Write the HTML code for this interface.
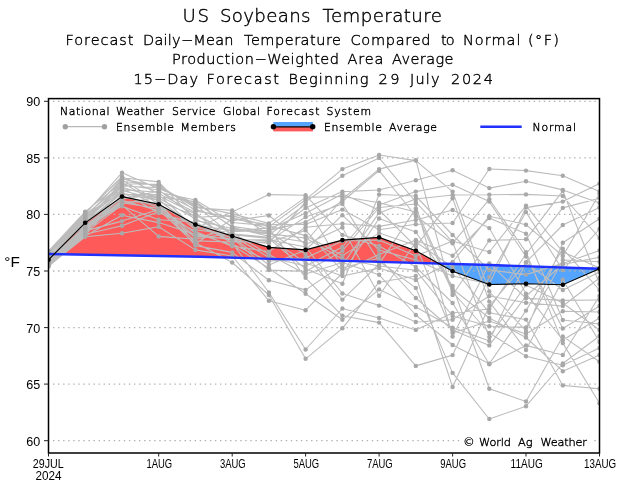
<!DOCTYPE html>
<html><head><meta charset="utf-8"><title>US Soybeans Temperature</title>
<style>html,body{margin:0;padding:0;background:#fff;}svg{display:block;will-change:transform;}</style>
</head><body>
<svg width="625" height="485" viewBox="0 0 625 485">
<defs><clipPath id="pc"><rect x="48.5" y="98.6" width="551" height="354.4"/></clipPath></defs>
<rect width="625" height="485" fill="#fff"/>
<g clip-path="url(#pc)">
<polygon points="54.3,254 85.2,222.9 121.8,196.7 122.1,196.6 158.8,204.3 195.4,224.6 200.1,226.1 232.1,236.1 268.7,247.3 269,247.4 305.7,249.9 342.3,240.1 345.1,239.9 379,237.4 379.3,237.5 415.9,250.8 438.8,263.5 438.8,263.6 415.9,262.9 379.3,261.9 379,261.9 345.1,260.9 342.3,260.8 305.7,259.8 269,258.8 268.7,258.7 232.1,257.7 200.1,256.8 195.4,256.7 158.8,256 122.1,255.4 121.8,255.4 85.2,254.7 54.3,254.1" fill="#ff5a5a"/>
<polygon points="48.5,259.8 54,254.2 54,254.1 48.5,254" fill="#55a5ff"/>
<polygon points="439.1,263.7 452.6,271.2 489.2,284.5 490.1,284.5 525.9,283.8 526.2,283.8 562.8,284.7 599.2,268.9 599.2,268.8 562.8,267.5 526.2,266.3 525.9,266.2 490.1,265 489.2,265 452.6,263.9 439.1,263.6" fill="#55a5ff"/>
<line x1="53" y1="101.3" x2="599" y2="101.3" stroke="#b0b0b0" stroke-width="1.3" stroke-dasharray="1.4 3.66"/>
<line x1="53" y1="157.9" x2="599" y2="157.9" stroke="#b0b0b0" stroke-width="1.3" stroke-dasharray="1.4 3.66"/>
<line x1="53" y1="214.4" x2="599" y2="214.4" stroke="#b0b0b0" stroke-width="1.3" stroke-dasharray="1.4 3.66"/>
<line x1="53" y1="271" x2="599" y2="271" stroke="#b0b0b0" stroke-width="1.3" stroke-dasharray="1.4 3.66"/>
<line x1="53" y1="327.6" x2="599" y2="327.6" stroke="#b0b0b0" stroke-width="1.3" stroke-dasharray="1.4 3.66"/>
<line x1="53" y1="384.1" x2="599" y2="384.1" stroke="#b0b0b0" stroke-width="1.3" stroke-dasharray="1.4 3.66"/>
<line x1="53" y1="440.7" x2="599" y2="440.7" stroke="#b0b0b0" stroke-width="1.3" stroke-dasharray="1.4 3.66"/>
<path d="M48.5 251L85.2 211.6 M48.5 252L85.2 212.4 M48.5 254.1L85.2 213.3 M48.5 252.6L85.2 214.1 M48.5 253.6L85.2 215 M48.5 255.7L85.2 215.8 M48.5 253.1L85.2 216.6 M48.5 251.5L85.2 217.5 M48.5 254.6L85.2 218.3 M48.5 255.2L85.2 219.2 M48.5 257.2L85.2 220 M48.5 258.3L85.2 220.8 M48.5 259.8L85.2 221.7 M48.5 256.7L85.2 222.5 M48.5 258.8L85.2 223.4 M48.5 257.8L85.2 224.2 M48.5 256.2L85.2 225 M48.5 263L85.2 225.9 M48.5 259.3L85.2 226.7 M48.5 260.4L85.2 227.6 M48.5 261.9L85.2 228.4 M48.5 264.5L85.2 229.2 M48.5 260.9L85.2 230.1 M48.5 263.5L85.2 230.9 M48.5 261.4L85.2 231.8 M48.5 262.4L85.2 232.6 M48.5 264L85.2 233.4 M48.5 265L85.2 234.3 M48.5 266.6L85.2 235.1 M48.5 265.6L85.2 236 M48.5 266.1L85.2 236.8 M85.2 214.1L122 172.7 M85.2 213.3L122 176.5 M85.2 212.4L122 177.7 M85.2 217.5L122 178.9 M85.2 216.6L122 180.1 M85.2 223.4L122 181.3 M85.2 211.6L122 182.5 M85.2 220L122 183.7 M85.2 215L122 184.8 M85.2 218.3L122 186 M85.2 221.7L122 187.2 M85.2 233.4L122 188.4 M85.2 215.8L122 189.6 M85.2 219.2L122 190.8 M85.2 222.5L122 192 M85.2 224.2L122 193.2 M85.2 235.1L122 194.4 M85.2 231.8L122 195.6 M85.2 225.9L122 196.8 M85.2 226.7L122 198 M85.2 220.8L122 199.1 M85.2 228.4L122 200.3 M85.2 227.6L122 201.5 M85.2 229.2L122 202.7 M85.2 230.1L122 203.9 M85.2 232.6L122 205.1 M85.2 225L122 206.3 M85.2 236L122 215.3 M85.2 230.9L122 221.1 M85.2 234.3L122 225.7 M85.2 236.8L122 233.2 M122 177.7L158.7 181.9 M122 183.7L158.7 184.2 M122 181.3L158.7 185.4 M122 178.9L158.7 186.5 M122 186L158.7 187.7 M122 172.7L158.7 188.8 M122 184.8L158.7 190 M122 199.1L158.7 191.1 M122 189.6L158.7 192.3 M122 176.5L158.7 193.4 M122 194.4L158.7 194.6 M122 198L158.7 195.7 M122 203.9L158.7 196.9 M122 187.2L158.7 198 M122 190.8L158.7 199.2 M122 193.2L158.7 200.3 M122 180.1L158.7 201.5 M122 201.5L158.7 202.6 M122 182.5L158.7 203.8 M122 196.8L158.7 204.9 M122 188.4L158.7 206.1 M122 195.6L158.7 207.2 M122 202.7L158.7 208.4 M122 221.1L158.7 209.5 M122 200.3L158.7 210.7 M122 225.7L158.7 211.8 M122 192L158.7 213 M122 206.3L158.7 219.7 M122 215.3L158.7 222.6 M122 233.2L158.7 226.8 M122 205.1L158.7 236.4 M158.7 192.3L195.4 200 M158.7 196.9L195.4 201.5 M158.7 188.8L195.4 203.1 M158.7 187.7L195.4 204.7 M158.7 186.5L195.4 206.2 M158.7 185.4L195.4 207.8 M158.7 191.1L195.4 209.4 M158.7 184.2L195.4 210.9 M158.7 193.4L195.4 212.5 M158.7 195.7L195.4 214.1 M158.7 201.5L195.4 215.7 M158.7 190L195.4 217.2 M158.7 198L195.4 218.8 M158.7 181.9L195.4 220.4 M158.7 219.7L195.4 222 M158.7 213L195.4 223.6 M158.7 204.9L195.4 225.1 M158.7 200.3L195.4 226.7 M158.7 194.6L195.4 228.3 M158.7 199.2L195.4 229.8 M158.7 211.8L195.4 231.4 M158.7 207.2L195.4 233 M158.7 222.6L195.4 234.6 M158.7 206.1L195.4 236.1 M158.7 208.4L195.4 237.7 M158.7 236.4L195.4 239.3 M158.7 210.7L195.4 240.9 M158.7 202.6L195.4 242.4 M158.7 209.5L195.4 244 M158.7 203.8L195.4 245.6 M158.7 226.8L195.4 249.9 M195.4 207.8L232.2 210.4 M195.4 228.3L232.2 212.1 M195.4 206.2L232.2 213.9 M195.4 217.2L232.2 215.6 M195.4 210.9L232.2 217.3 M195.4 244L232.2 219 M195.4 209.4L232.2 220.8 M195.4 200L232.2 222.5 M195.4 203.1L232.2 226.4 M195.4 201.5L232.2 227.4 M195.4 220.4L232.2 228.5 M195.4 237.7L232.2 229.5 M195.4 225.1L232.2 230.6 M195.4 215.7L232.2 231.6 M195.4 239.3L232.2 232.7 M195.4 214.1L232.2 233.7 M195.4 229.8L232.2 234.7 M195.4 204.7L232.2 235.8 M195.4 218.8L232.2 236.8 M195.4 226.7L232.2 237.9 M195.4 236.1L232.2 238.9 M195.4 234.6L232.2 239.9 M195.4 223.6L232.2 241 M195.4 240.9L232.2 242 M195.4 222L232.2 243.1 M195.4 212.5L232.2 244.1 M195.4 233L232.2 245.2 M195.4 231.4L232.2 246.2 M195.4 245.6L232.2 252.4 M195.4 249.9L232.2 256 M195.4 242.4L232.2 262.5 M232.2 252.4L268.9 280.3 M232.2 256L268.9 300.8 M232.2 262.5L268.9 295 M232.2 212.1L268.9 194.6 M232.2 220.8L268.9 215.5 M232.2 213.9L268.9 223.4 M232.2 219L268.9 224.6 M232.2 222.5L268.9 225.7 M232.2 215.6L268.9 226.9 M232.2 230.6L268.9 228.1 M232.2 217.3L268.9 229.2 M232.2 231.6L268.9 230.4 M232.2 226.4L268.9 231.6 M232.2 228.5L268.9 232.7 M232.2 229.5L268.9 233.9 M232.2 210.4L268.9 235 M232.2 227.4L268.9 236.2 M232.2 233.7L268.9 237.4 M232.2 234.7L268.9 238.5 M232.2 239.9L268.9 239.7 M232.2 238.9L268.9 240.9 M232.2 242L268.9 242 M232.2 241L268.9 243.2 M232.2 246.2L268.9 251.5 M232.2 232.7L268.9 254.5 M232.2 235.8L268.9 257.3 M232.2 244.1L268.9 261.1 M232.2 236.8L268.9 265 M232.2 245.2L268.9 268.2 M232.2 237.9L268.9 270.1 M232.2 243.1L268.9 292.5 M268.9 295L305.6 358.8 M268.9 292.5L305.6 349.5 M268.9 300.8L305.6 310.2 M268.9 194.6L305.6 195.2 M268.9 223.4L305.6 197.4 M268.9 226.9L305.6 199.7 M268.9 243.2L305.6 201.9 M268.9 231.6L305.6 204.2 M268.9 235L305.6 208 M268.9 229.2L305.6 213.2 M268.9 240.9L305.6 217 M268.9 230.4L305.6 222.1 M268.9 224.6L305.6 224.5 M268.9 251.5L305.6 227.2 M268.9 242L305.6 230.4 M268.9 225.7L305.6 235.6 M268.9 233.9L305.6 238 M268.9 236.2L305.6 242 M268.9 215.5L305.6 244.5 M268.9 239.7L305.6 247 M268.9 265L305.6 250 M268.9 232.7L305.6 254.1 M268.9 261.1L305.6 258 M268.9 237.4L305.6 263 M268.9 257.3L305.6 266 M268.9 238.5L305.6 269 M268.9 270.1L305.6 271.4 M268.9 254.5L305.6 274 M268.9 228.1L305.6 277.8 M268.9 280.3L305.6 289.9 M268.9 268.2L305.6 293.8 M305.6 358.8L342.4 328.3 M305.6 349.5L342.4 308.5 M305.6 199.7L342.4 169.1 M305.6 201.9L342.4 175.8 M305.6 208L342.4 191.6 M305.6 213.2L342.4 194 M305.6 197.4L342.4 196.5 M305.6 242L342.4 199 M305.6 222.1L342.4 201.5 M305.6 217L342.4 203.9 M305.6 224.5L342.4 209.6 M305.6 250L342.4 215.2 M305.6 227.2L342.4 223.7 M305.6 244.5L342.4 227.5 M305.6 195.2L342.4 234.9 M305.6 258L342.4 241 M305.6 266L342.4 247 M305.6 271.4L342.4 251 M305.6 235.6L342.4 255.6 M305.6 238L342.4 259 M305.6 274L342.4 262.5 M305.6 289.9L342.4 265 M305.6 204.2L342.4 268 M305.6 230.4L342.4 271 M305.6 310.2L342.4 273 M305.6 263L342.4 276 M305.6 269L342.4 283.8 M305.6 247L342.4 293.5 M305.6 254.1L342.4 299.6 M305.6 277.8L342.4 315.8 M305.6 293.8L342.4 319.8 M342.4 328.3L379.1 282.2 M342.4 319.8L379.1 289.4 M342.4 308.5L379.1 318 M342.4 293.5L379.1 305.6 M342.4 169.1L379.1 155 M342.4 175.8L379.1 157.9 M342.4 199L379.1 169.1 M342.4 201.5L379.1 170.7 M342.4 191.6L379.1 190 M342.4 283.8L379.1 194.5 M342.4 196.5L379.1 202.8 M342.4 247L379.1 205 M342.4 251L379.1 207.5 M342.4 194L379.1 210 M342.4 265L379.1 212.9 M342.4 273L379.1 218.5 M342.4 223.7L379.1 226.4 M342.4 209.6L379.1 229.8 M342.4 255.6L379.1 233.1 M342.4 241L379.1 240 M342.4 234.9L379.1 246 M342.4 215.2L379.1 250 M342.4 271L379.1 254.5 M342.4 268L379.1 258 M342.4 203.9L379.1 261.3 M342.4 299.6L379.1 264 M342.4 259L379.1 266 M342.4 276L379.1 268.1 M342.4 262.5L379.1 274.8 M342.4 227.5L379.1 295.7 M342.4 315.8L379.1 322.6 M379.1 318L415.8 329.9 M379.1 322.6L415.8 365.9 M379.1 305.6L415.8 322 M379.1 289.4L415.8 307 M379.1 155L415.8 160.6 M379.1 157.9L415.8 202 M379.1 169.1L415.8 160.1 M379.1 170.7L415.8 216 M379.1 190L415.8 180.3 M379.1 205L415.8 191.6 M379.1 194.5L415.8 196 M379.1 212.9L415.8 199 M379.1 207.5L415.8 204 M379.1 264L415.8 208.4 M379.1 202.8L415.8 212 M379.1 226.4L415.8 220 M379.1 229.8L415.8 224.2 M379.1 218.5L415.8 232 M379.1 254.5L415.8 239.9 M379.1 295.7L415.8 242 M379.1 233.1L415.8 245.5 M379.1 210L415.8 246.7 M379.1 240L415.8 256 M379.1 250L415.8 260 M379.1 246L415.8 267 M379.1 266L415.8 270.3 M379.1 282.2L415.8 276 M379.1 268.1L415.8 280 M379.1 261.3L415.8 287.9 M379.1 258L415.8 298 M379.1 274.8L415.8 315 M415.8 365.9L452.6 355.1 M415.8 329.9L452.6 313 M415.8 322L452.6 319.8 M415.8 160.6L452.6 191.6 M415.8 160.1L452.6 295 M415.8 180.3L452.6 170.2 M415.8 191.6L452.6 184.8 M415.8 276L452.6 387 M415.8 287.9L452.6 372.9 M415.8 199L452.6 195 M415.8 246.7L452.6 198.3 M415.8 220L452.6 210 M415.8 224.2L452.6 223 M415.8 196L452.6 235 M415.8 256L452.6 241 M415.8 202L452.6 242.2 M415.8 216L452.6 243.3 M415.8 239.9L452.6 255.7 M415.8 280L452.6 262 M415.8 242L452.6 267 M415.8 260L452.6 276 M415.8 232L452.6 286 M415.8 208.4L452.6 289 M415.8 212L452.6 292 M415.8 267L452.6 303 M415.8 270.3L452.6 316 M415.8 307L452.6 327.6 M415.8 298L452.6 330 M415.8 245.5L452.6 333 M415.8 204L452.6 336.6 M415.8 315L452.6 345 M452.6 372.9L489.3 419 M452.6 387L489.3 306 M452.6 355.1L489.3 276.9 M452.6 286L489.3 388.7 M452.6 303L489.3 364.2 M452.6 170.2L489.3 188.1 M452.6 223L489.3 169 M452.6 195L489.3 194.8 M452.6 243.3L489.3 199.3 M452.6 184.8L489.3 201.6 M452.6 262L489.3 216.2 M452.6 255.7L489.3 218 M452.6 210L489.3 228.1 M452.6 295L489.3 240.4 M452.6 241L489.3 252 M452.6 336.6L489.3 263.4 M452.6 235L489.3 270 M452.6 276L489.3 284 M452.6 191.6L489.3 291.5 M452.6 319.8L489.3 296 M452.6 198.3L489.3 301.6 M452.6 313L489.3 309 M452.6 267L489.3 312.8 M452.6 289L489.3 318 M452.6 333L489.3 321.1 M452.6 316L489.3 326.3 M452.6 292L489.3 333 M452.6 242.2L489.3 337 M452.6 327.6L489.3 341 M452.6 330L489.3 345.4 M452.6 345L489.3 363.8 M489.3 419L526 406.2 M489.3 388.7L526 401.5 M489.3 364.2L526 345.4 M489.3 169L526 170.6 M489.3 188.1L526 181.3 M489.3 194.8L526 194.4 M489.3 252L526 205.6 M489.3 284L526 207.6 M489.3 276.9L526 212.1 M489.3 216.2L526 224.7 M489.3 218L526 233.7 M489.3 240.4L526 239.3 M489.3 199.3L526 252.1 M489.3 309L526 254 M489.3 201.6L526 256.6 M489.3 341L526 262.2 M489.3 306L526 262.7 M489.3 270L526 274.6 M489.3 337L526 285 M489.3 228.1L526 293.7 M489.3 345.4L526 296 M489.3 263.4L526 298.2 M489.3 296L526 302.7 M489.3 363.8L526 310.6 M489.3 312.8L526 319.6 M489.3 326.3L526 327.4 M489.3 291.5L526 331 M489.3 321.1L526 334 M489.3 318L526 337.5 M489.3 301.6L526 350 M489.3 333L526 356.2 M526 401.5L562.8 336.4 M526 406.2L562.8 363.5 M526 356.2L562.8 365.2 M526 319.6L562.8 385.4 M526 170.6L562.8 175.7 M526 181.3L562.8 189.9 M526 194.4L562.8 196 M526 207.6L562.8 201.6 M526 239.3L562.8 190.8 M526 254L562.8 207.9 M526 262.2L562.8 225 M526 331L562.8 242.7 M526 310.6L562.8 248.8 M526 205.6L562.8 252 M526 224.7L562.8 256 M526 327.4L562.8 260 M526 274.6L562.8 263.4 M526 296L562.8 264.5 M526 212.1L562.8 270 M526 350L562.8 279.8 M526 262.7L562.8 290 M526 298.2L562.8 300.4 M526 285L562.8 303 M526 302.7L562.8 306 M526 334L562.8 311.2 M526 233.7L562.8 320 M526 256.6L562.8 328.5 M526 293.7L562.8 340 M526 252.1L562.8 343.1 M526 345.4L562.8 355 M526 337.5L562.8 371.2 M562.8 371.2L599.5 355 M562.8 385.4L599.5 388.7 M562.8 343.1L599.5 403.2 M562.8 175.7L599.5 191.5 M562.8 201.6L599.5 183.6 M562.8 256L599.5 193.8 M562.8 207.9L599.5 198.3 M562.8 189.9L599.5 202.9 M562.8 225L599.5 207.4 M562.8 242.7L599.5 218.8 M562.8 270L599.5 229 M562.8 196L599.5 238 M562.8 263.4L599.5 250.5 M562.8 264.5L599.5 257.3 M562.8 260L599.5 261.8 M562.8 252L599.5 268 M562.8 290L599.5 272 M562.8 306L599.5 278 M562.8 190.8L599.5 284 M562.8 248.8L599.5 290 M562.8 355L599.5 296 M562.8 300.4L599.5 300 M562.8 328.5L599.5 306 M562.8 311.2L599.5 312 M562.8 340L599.5 318 M562.8 320L599.5 324 M562.8 303L599.5 330 M562.8 363.5L599.5 336 M562.8 279.8L599.5 342 M562.8 365.2L599.5 348 M562.8 336.4L599.5 361.8" fill="none" stroke="#bcbcbc" stroke-width="1.1"/>
<circle cx="48.5" cy="251" r="2.2" fill="#a8a8a8"/>
<circle cx="48.5" cy="251.5" r="2.2" fill="#a8a8a8"/>
<circle cx="48.5" cy="252" r="2.2" fill="#a8a8a8"/>
<circle cx="48.5" cy="252.6" r="2.2" fill="#a8a8a8"/>
<circle cx="48.5" cy="253.1" r="2.2" fill="#a8a8a8"/>
<circle cx="48.5" cy="253.6" r="2.2" fill="#a8a8a8"/>
<circle cx="48.5" cy="254.1" r="2.2" fill="#a8a8a8"/>
<circle cx="48.5" cy="254.6" r="2.2" fill="#a8a8a8"/>
<circle cx="48.5" cy="255.2" r="2.2" fill="#a8a8a8"/>
<circle cx="48.5" cy="255.7" r="2.2" fill="#a8a8a8"/>
<circle cx="48.5" cy="256.2" r="2.2" fill="#a8a8a8"/>
<circle cx="48.5" cy="256.7" r="2.2" fill="#a8a8a8"/>
<circle cx="48.5" cy="257.2" r="2.2" fill="#a8a8a8"/>
<circle cx="48.5" cy="257.8" r="2.2" fill="#a8a8a8"/>
<circle cx="48.5" cy="258.3" r="2.2" fill="#a8a8a8"/>
<circle cx="48.5" cy="258.8" r="2.2" fill="#a8a8a8"/>
<circle cx="48.5" cy="259.3" r="2.2" fill="#a8a8a8"/>
<circle cx="48.5" cy="259.8" r="2.2" fill="#a8a8a8"/>
<circle cx="48.5" cy="260.4" r="2.2" fill="#a8a8a8"/>
<circle cx="48.5" cy="260.9" r="2.2" fill="#a8a8a8"/>
<circle cx="48.5" cy="261.4" r="2.2" fill="#a8a8a8"/>
<circle cx="48.5" cy="261.9" r="2.2" fill="#a8a8a8"/>
<circle cx="48.5" cy="262.4" r="2.2" fill="#a8a8a8"/>
<circle cx="48.5" cy="263" r="2.2" fill="#a8a8a8"/>
<circle cx="48.5" cy="263.5" r="2.2" fill="#a8a8a8"/>
<circle cx="48.5" cy="264" r="2.2" fill="#a8a8a8"/>
<circle cx="48.5" cy="264.5" r="2.2" fill="#a8a8a8"/>
<circle cx="48.5" cy="265" r="2.2" fill="#a8a8a8"/>
<circle cx="48.5" cy="265.6" r="2.2" fill="#a8a8a8"/>
<circle cx="48.5" cy="266.1" r="2.2" fill="#a8a8a8"/>
<circle cx="48.5" cy="266.6" r="2.2" fill="#a8a8a8"/>
<circle cx="85.2" cy="211.6" r="2.2" fill="#a8a8a8"/>
<circle cx="85.2" cy="212.4" r="2.2" fill="#a8a8a8"/>
<circle cx="85.2" cy="213.3" r="2.2" fill="#a8a8a8"/>
<circle cx="85.2" cy="214.1" r="2.2" fill="#a8a8a8"/>
<circle cx="85.2" cy="215" r="2.2" fill="#a8a8a8"/>
<circle cx="85.2" cy="215.8" r="2.2" fill="#a8a8a8"/>
<circle cx="85.2" cy="216.6" r="2.2" fill="#a8a8a8"/>
<circle cx="85.2" cy="217.5" r="2.2" fill="#a8a8a8"/>
<circle cx="85.2" cy="218.3" r="2.2" fill="#a8a8a8"/>
<circle cx="85.2" cy="219.2" r="2.2" fill="#a8a8a8"/>
<circle cx="85.2" cy="220" r="2.2" fill="#a8a8a8"/>
<circle cx="85.2" cy="220.8" r="2.2" fill="#a8a8a8"/>
<circle cx="85.2" cy="221.7" r="2.2" fill="#a8a8a8"/>
<circle cx="85.2" cy="222.5" r="2.2" fill="#a8a8a8"/>
<circle cx="85.2" cy="223.4" r="2.2" fill="#a8a8a8"/>
<circle cx="85.2" cy="224.2" r="2.2" fill="#a8a8a8"/>
<circle cx="85.2" cy="225" r="2.2" fill="#a8a8a8"/>
<circle cx="85.2" cy="225.9" r="2.2" fill="#a8a8a8"/>
<circle cx="85.2" cy="226.7" r="2.2" fill="#a8a8a8"/>
<circle cx="85.2" cy="227.6" r="2.2" fill="#a8a8a8"/>
<circle cx="85.2" cy="228.4" r="2.2" fill="#a8a8a8"/>
<circle cx="85.2" cy="229.2" r="2.2" fill="#a8a8a8"/>
<circle cx="85.2" cy="230.1" r="2.2" fill="#a8a8a8"/>
<circle cx="85.2" cy="230.9" r="2.2" fill="#a8a8a8"/>
<circle cx="85.2" cy="231.8" r="2.2" fill="#a8a8a8"/>
<circle cx="85.2" cy="232.6" r="2.2" fill="#a8a8a8"/>
<circle cx="85.2" cy="233.4" r="2.2" fill="#a8a8a8"/>
<circle cx="85.2" cy="234.3" r="2.2" fill="#a8a8a8"/>
<circle cx="85.2" cy="235.1" r="2.2" fill="#a8a8a8"/>
<circle cx="85.2" cy="236" r="2.2" fill="#a8a8a8"/>
<circle cx="85.2" cy="236.8" r="2.2" fill="#a8a8a8"/>
<circle cx="122" cy="172.7" r="2.2" fill="#a8a8a8"/>
<circle cx="122" cy="176.5" r="2.2" fill="#a8a8a8"/>
<circle cx="122" cy="177.7" r="2.2" fill="#a8a8a8"/>
<circle cx="122" cy="178.9" r="2.2" fill="#a8a8a8"/>
<circle cx="122" cy="180.1" r="2.2" fill="#a8a8a8"/>
<circle cx="122" cy="181.3" r="2.2" fill="#a8a8a8"/>
<circle cx="122" cy="182.5" r="2.2" fill="#a8a8a8"/>
<circle cx="122" cy="183.7" r="2.2" fill="#a8a8a8"/>
<circle cx="122" cy="184.8" r="2.2" fill="#a8a8a8"/>
<circle cx="122" cy="186" r="2.2" fill="#a8a8a8"/>
<circle cx="122" cy="187.2" r="2.2" fill="#a8a8a8"/>
<circle cx="122" cy="188.4" r="2.2" fill="#a8a8a8"/>
<circle cx="122" cy="189.6" r="2.2" fill="#a8a8a8"/>
<circle cx="122" cy="190.8" r="2.2" fill="#a8a8a8"/>
<circle cx="122" cy="192" r="2.2" fill="#a8a8a8"/>
<circle cx="122" cy="193.2" r="2.2" fill="#a8a8a8"/>
<circle cx="122" cy="194.4" r="2.2" fill="#a8a8a8"/>
<circle cx="122" cy="195.6" r="2.2" fill="#a8a8a8"/>
<circle cx="122" cy="196.8" r="2.2" fill="#a8a8a8"/>
<circle cx="122" cy="198" r="2.2" fill="#a8a8a8"/>
<circle cx="122" cy="199.1" r="2.2" fill="#a8a8a8"/>
<circle cx="122" cy="200.3" r="2.2" fill="#a8a8a8"/>
<circle cx="122" cy="201.5" r="2.2" fill="#a8a8a8"/>
<circle cx="122" cy="202.7" r="2.2" fill="#a8a8a8"/>
<circle cx="122" cy="203.9" r="2.2" fill="#a8a8a8"/>
<circle cx="122" cy="205.1" r="2.2" fill="#a8a8a8"/>
<circle cx="122" cy="206.3" r="2.2" fill="#a8a8a8"/>
<circle cx="122" cy="215.3" r="2.2" fill="#a8a8a8"/>
<circle cx="122" cy="221.1" r="2.2" fill="#a8a8a8"/>
<circle cx="122" cy="225.7" r="2.2" fill="#a8a8a8"/>
<circle cx="122" cy="233.2" r="2.2" fill="#a8a8a8"/>
<circle cx="158.7" cy="181.9" r="2.2" fill="#a8a8a8"/>
<circle cx="158.7" cy="184.2" r="2.2" fill="#a8a8a8"/>
<circle cx="158.7" cy="185.4" r="2.2" fill="#a8a8a8"/>
<circle cx="158.7" cy="186.5" r="2.2" fill="#a8a8a8"/>
<circle cx="158.7" cy="187.7" r="2.2" fill="#a8a8a8"/>
<circle cx="158.7" cy="188.8" r="2.2" fill="#a8a8a8"/>
<circle cx="158.7" cy="190" r="2.2" fill="#a8a8a8"/>
<circle cx="158.7" cy="191.1" r="2.2" fill="#a8a8a8"/>
<circle cx="158.7" cy="192.3" r="2.2" fill="#a8a8a8"/>
<circle cx="158.7" cy="193.4" r="2.2" fill="#a8a8a8"/>
<circle cx="158.7" cy="194.6" r="2.2" fill="#a8a8a8"/>
<circle cx="158.7" cy="195.7" r="2.2" fill="#a8a8a8"/>
<circle cx="158.7" cy="196.9" r="2.2" fill="#a8a8a8"/>
<circle cx="158.7" cy="198" r="2.2" fill="#a8a8a8"/>
<circle cx="158.7" cy="199.2" r="2.2" fill="#a8a8a8"/>
<circle cx="158.7" cy="200.3" r="2.2" fill="#a8a8a8"/>
<circle cx="158.7" cy="201.5" r="2.2" fill="#a8a8a8"/>
<circle cx="158.7" cy="202.6" r="2.2" fill="#a8a8a8"/>
<circle cx="158.7" cy="203.8" r="2.2" fill="#a8a8a8"/>
<circle cx="158.7" cy="204.9" r="2.2" fill="#a8a8a8"/>
<circle cx="158.7" cy="206.1" r="2.2" fill="#a8a8a8"/>
<circle cx="158.7" cy="207.2" r="2.2" fill="#a8a8a8"/>
<circle cx="158.7" cy="208.4" r="2.2" fill="#a8a8a8"/>
<circle cx="158.7" cy="209.5" r="2.2" fill="#a8a8a8"/>
<circle cx="158.7" cy="210.7" r="2.2" fill="#a8a8a8"/>
<circle cx="158.7" cy="211.8" r="2.2" fill="#a8a8a8"/>
<circle cx="158.7" cy="213" r="2.2" fill="#a8a8a8"/>
<circle cx="158.7" cy="219.7" r="2.2" fill="#a8a8a8"/>
<circle cx="158.7" cy="222.6" r="2.2" fill="#a8a8a8"/>
<circle cx="158.7" cy="226.8" r="2.2" fill="#a8a8a8"/>
<circle cx="158.7" cy="236.4" r="2.2" fill="#a8a8a8"/>
<circle cx="195.4" cy="200" r="2.2" fill="#a8a8a8"/>
<circle cx="195.4" cy="201.5" r="2.2" fill="#a8a8a8"/>
<circle cx="195.4" cy="203.1" r="2.2" fill="#a8a8a8"/>
<circle cx="195.4" cy="204.7" r="2.2" fill="#a8a8a8"/>
<circle cx="195.4" cy="206.2" r="2.2" fill="#a8a8a8"/>
<circle cx="195.4" cy="207.8" r="2.2" fill="#a8a8a8"/>
<circle cx="195.4" cy="209.4" r="2.2" fill="#a8a8a8"/>
<circle cx="195.4" cy="210.9" r="2.2" fill="#a8a8a8"/>
<circle cx="195.4" cy="212.5" r="2.2" fill="#a8a8a8"/>
<circle cx="195.4" cy="214.1" r="2.2" fill="#a8a8a8"/>
<circle cx="195.4" cy="215.7" r="2.2" fill="#a8a8a8"/>
<circle cx="195.4" cy="217.2" r="2.2" fill="#a8a8a8"/>
<circle cx="195.4" cy="218.8" r="2.2" fill="#a8a8a8"/>
<circle cx="195.4" cy="220.4" r="2.2" fill="#a8a8a8"/>
<circle cx="195.4" cy="222" r="2.2" fill="#a8a8a8"/>
<circle cx="195.4" cy="223.6" r="2.2" fill="#a8a8a8"/>
<circle cx="195.4" cy="225.1" r="2.2" fill="#a8a8a8"/>
<circle cx="195.4" cy="226.7" r="2.2" fill="#a8a8a8"/>
<circle cx="195.4" cy="228.3" r="2.2" fill="#a8a8a8"/>
<circle cx="195.4" cy="229.8" r="2.2" fill="#a8a8a8"/>
<circle cx="195.4" cy="231.4" r="2.2" fill="#a8a8a8"/>
<circle cx="195.4" cy="233" r="2.2" fill="#a8a8a8"/>
<circle cx="195.4" cy="234.6" r="2.2" fill="#a8a8a8"/>
<circle cx="195.4" cy="236.1" r="2.2" fill="#a8a8a8"/>
<circle cx="195.4" cy="237.7" r="2.2" fill="#a8a8a8"/>
<circle cx="195.4" cy="239.3" r="2.2" fill="#a8a8a8"/>
<circle cx="195.4" cy="240.9" r="2.2" fill="#a8a8a8"/>
<circle cx="195.4" cy="242.4" r="2.2" fill="#a8a8a8"/>
<circle cx="195.4" cy="244" r="2.2" fill="#a8a8a8"/>
<circle cx="195.4" cy="245.6" r="2.2" fill="#a8a8a8"/>
<circle cx="195.4" cy="249.9" r="2.2" fill="#a8a8a8"/>
<circle cx="232.2" cy="210.4" r="2.2" fill="#a8a8a8"/>
<circle cx="232.2" cy="212.1" r="2.2" fill="#a8a8a8"/>
<circle cx="232.2" cy="213.9" r="2.2" fill="#a8a8a8"/>
<circle cx="232.2" cy="215.6" r="2.2" fill="#a8a8a8"/>
<circle cx="232.2" cy="217.3" r="2.2" fill="#a8a8a8"/>
<circle cx="232.2" cy="219" r="2.2" fill="#a8a8a8"/>
<circle cx="232.2" cy="220.8" r="2.2" fill="#a8a8a8"/>
<circle cx="232.2" cy="222.5" r="2.2" fill="#a8a8a8"/>
<circle cx="232.2" cy="226.4" r="2.2" fill="#a8a8a8"/>
<circle cx="232.2" cy="227.4" r="2.2" fill="#a8a8a8"/>
<circle cx="232.2" cy="228.5" r="2.2" fill="#a8a8a8"/>
<circle cx="232.2" cy="229.5" r="2.2" fill="#a8a8a8"/>
<circle cx="232.2" cy="230.6" r="2.2" fill="#a8a8a8"/>
<circle cx="232.2" cy="231.6" r="2.2" fill="#a8a8a8"/>
<circle cx="232.2" cy="232.7" r="2.2" fill="#a8a8a8"/>
<circle cx="232.2" cy="233.7" r="2.2" fill="#a8a8a8"/>
<circle cx="232.2" cy="234.7" r="2.2" fill="#a8a8a8"/>
<circle cx="232.2" cy="235.8" r="2.2" fill="#a8a8a8"/>
<circle cx="232.2" cy="236.8" r="2.2" fill="#a8a8a8"/>
<circle cx="232.2" cy="237.9" r="2.2" fill="#a8a8a8"/>
<circle cx="232.2" cy="238.9" r="2.2" fill="#a8a8a8"/>
<circle cx="232.2" cy="239.9" r="2.2" fill="#a8a8a8"/>
<circle cx="232.2" cy="241" r="2.2" fill="#a8a8a8"/>
<circle cx="232.2" cy="242" r="2.2" fill="#a8a8a8"/>
<circle cx="232.2" cy="243.1" r="2.2" fill="#a8a8a8"/>
<circle cx="232.2" cy="244.1" r="2.2" fill="#a8a8a8"/>
<circle cx="232.2" cy="245.2" r="2.2" fill="#a8a8a8"/>
<circle cx="232.2" cy="246.2" r="2.2" fill="#a8a8a8"/>
<circle cx="232.2" cy="252.4" r="2.2" fill="#a8a8a8"/>
<circle cx="232.2" cy="256" r="2.2" fill="#a8a8a8"/>
<circle cx="232.2" cy="262.5" r="2.2" fill="#a8a8a8"/>
<circle cx="268.9" cy="194.6" r="2.2" fill="#a8a8a8"/>
<circle cx="268.9" cy="215.5" r="2.2" fill="#a8a8a8"/>
<circle cx="268.9" cy="223.4" r="2.2" fill="#a8a8a8"/>
<circle cx="268.9" cy="224.6" r="2.2" fill="#a8a8a8"/>
<circle cx="268.9" cy="225.7" r="2.2" fill="#a8a8a8"/>
<circle cx="268.9" cy="226.9" r="2.2" fill="#a8a8a8"/>
<circle cx="268.9" cy="228.1" r="2.2" fill="#a8a8a8"/>
<circle cx="268.9" cy="229.2" r="2.2" fill="#a8a8a8"/>
<circle cx="268.9" cy="230.4" r="2.2" fill="#a8a8a8"/>
<circle cx="268.9" cy="231.6" r="2.2" fill="#a8a8a8"/>
<circle cx="268.9" cy="232.7" r="2.2" fill="#a8a8a8"/>
<circle cx="268.9" cy="233.9" r="2.2" fill="#a8a8a8"/>
<circle cx="268.9" cy="235" r="2.2" fill="#a8a8a8"/>
<circle cx="268.9" cy="236.2" r="2.2" fill="#a8a8a8"/>
<circle cx="268.9" cy="237.4" r="2.2" fill="#a8a8a8"/>
<circle cx="268.9" cy="238.5" r="2.2" fill="#a8a8a8"/>
<circle cx="268.9" cy="239.7" r="2.2" fill="#a8a8a8"/>
<circle cx="268.9" cy="240.9" r="2.2" fill="#a8a8a8"/>
<circle cx="268.9" cy="242" r="2.2" fill="#a8a8a8"/>
<circle cx="268.9" cy="243.2" r="2.2" fill="#a8a8a8"/>
<circle cx="268.9" cy="251.5" r="2.2" fill="#a8a8a8"/>
<circle cx="268.9" cy="254.5" r="2.2" fill="#a8a8a8"/>
<circle cx="268.9" cy="257.3" r="2.2" fill="#a8a8a8"/>
<circle cx="268.9" cy="261.1" r="2.2" fill="#a8a8a8"/>
<circle cx="268.9" cy="265" r="2.2" fill="#a8a8a8"/>
<circle cx="268.9" cy="268.2" r="2.2" fill="#a8a8a8"/>
<circle cx="268.9" cy="270.1" r="2.2" fill="#a8a8a8"/>
<circle cx="268.9" cy="280.3" r="2.2" fill="#a8a8a8"/>
<circle cx="268.9" cy="292.5" r="2.2" fill="#a8a8a8"/>
<circle cx="268.9" cy="295" r="2.2" fill="#a8a8a8"/>
<circle cx="268.9" cy="300.8" r="2.2" fill="#a8a8a8"/>
<circle cx="305.6" cy="195.2" r="2.2" fill="#a8a8a8"/>
<circle cx="305.6" cy="197.4" r="2.2" fill="#a8a8a8"/>
<circle cx="305.6" cy="199.7" r="2.2" fill="#a8a8a8"/>
<circle cx="305.6" cy="201.9" r="2.2" fill="#a8a8a8"/>
<circle cx="305.6" cy="204.2" r="2.2" fill="#a8a8a8"/>
<circle cx="305.6" cy="208" r="2.2" fill="#a8a8a8"/>
<circle cx="305.6" cy="213.2" r="2.2" fill="#a8a8a8"/>
<circle cx="305.6" cy="217" r="2.2" fill="#a8a8a8"/>
<circle cx="305.6" cy="222.1" r="2.2" fill="#a8a8a8"/>
<circle cx="305.6" cy="224.5" r="2.2" fill="#a8a8a8"/>
<circle cx="305.6" cy="227.2" r="2.2" fill="#a8a8a8"/>
<circle cx="305.6" cy="230.4" r="2.2" fill="#a8a8a8"/>
<circle cx="305.6" cy="235.6" r="2.2" fill="#a8a8a8"/>
<circle cx="305.6" cy="238" r="2.2" fill="#a8a8a8"/>
<circle cx="305.6" cy="242" r="2.2" fill="#a8a8a8"/>
<circle cx="305.6" cy="244.5" r="2.2" fill="#a8a8a8"/>
<circle cx="305.6" cy="247" r="2.2" fill="#a8a8a8"/>
<circle cx="305.6" cy="250" r="2.2" fill="#a8a8a8"/>
<circle cx="305.6" cy="254.1" r="2.2" fill="#a8a8a8"/>
<circle cx="305.6" cy="258" r="2.2" fill="#a8a8a8"/>
<circle cx="305.6" cy="263" r="2.2" fill="#a8a8a8"/>
<circle cx="305.6" cy="266" r="2.2" fill="#a8a8a8"/>
<circle cx="305.6" cy="269" r="2.2" fill="#a8a8a8"/>
<circle cx="305.6" cy="271.4" r="2.2" fill="#a8a8a8"/>
<circle cx="305.6" cy="274" r="2.2" fill="#a8a8a8"/>
<circle cx="305.6" cy="277.8" r="2.2" fill="#a8a8a8"/>
<circle cx="305.6" cy="289.9" r="2.2" fill="#a8a8a8"/>
<circle cx="305.6" cy="293.8" r="2.2" fill="#a8a8a8"/>
<circle cx="305.6" cy="310.2" r="2.2" fill="#a8a8a8"/>
<circle cx="305.6" cy="349.5" r="2.2" fill="#a8a8a8"/>
<circle cx="305.6" cy="358.8" r="2.2" fill="#a8a8a8"/>
<circle cx="342.4" cy="169.1" r="2.2" fill="#a8a8a8"/>
<circle cx="342.4" cy="175.8" r="2.2" fill="#a8a8a8"/>
<circle cx="342.4" cy="191.6" r="2.2" fill="#a8a8a8"/>
<circle cx="342.4" cy="194" r="2.2" fill="#a8a8a8"/>
<circle cx="342.4" cy="196.5" r="2.2" fill="#a8a8a8"/>
<circle cx="342.4" cy="199" r="2.2" fill="#a8a8a8"/>
<circle cx="342.4" cy="201.5" r="2.2" fill="#a8a8a8"/>
<circle cx="342.4" cy="203.9" r="2.2" fill="#a8a8a8"/>
<circle cx="342.4" cy="209.6" r="2.2" fill="#a8a8a8"/>
<circle cx="342.4" cy="215.2" r="2.2" fill="#a8a8a8"/>
<circle cx="342.4" cy="223.7" r="2.2" fill="#a8a8a8"/>
<circle cx="342.4" cy="227.5" r="2.2" fill="#a8a8a8"/>
<circle cx="342.4" cy="234.9" r="2.2" fill="#a8a8a8"/>
<circle cx="342.4" cy="241" r="2.2" fill="#a8a8a8"/>
<circle cx="342.4" cy="247" r="2.2" fill="#a8a8a8"/>
<circle cx="342.4" cy="251" r="2.2" fill="#a8a8a8"/>
<circle cx="342.4" cy="255.6" r="2.2" fill="#a8a8a8"/>
<circle cx="342.4" cy="259" r="2.2" fill="#a8a8a8"/>
<circle cx="342.4" cy="262.5" r="2.2" fill="#a8a8a8"/>
<circle cx="342.4" cy="265" r="2.2" fill="#a8a8a8"/>
<circle cx="342.4" cy="268" r="2.2" fill="#a8a8a8"/>
<circle cx="342.4" cy="271" r="2.2" fill="#a8a8a8"/>
<circle cx="342.4" cy="273" r="2.2" fill="#a8a8a8"/>
<circle cx="342.4" cy="276" r="2.2" fill="#a8a8a8"/>
<circle cx="342.4" cy="283.8" r="2.2" fill="#a8a8a8"/>
<circle cx="342.4" cy="293.5" r="2.2" fill="#a8a8a8"/>
<circle cx="342.4" cy="299.6" r="2.2" fill="#a8a8a8"/>
<circle cx="342.4" cy="308.5" r="2.2" fill="#a8a8a8"/>
<circle cx="342.4" cy="315.8" r="2.2" fill="#a8a8a8"/>
<circle cx="342.4" cy="319.8" r="2.2" fill="#a8a8a8"/>
<circle cx="342.4" cy="328.3" r="2.2" fill="#a8a8a8"/>
<circle cx="379.1" cy="155" r="2.2" fill="#a8a8a8"/>
<circle cx="379.1" cy="157.9" r="2.2" fill="#a8a8a8"/>
<circle cx="379.1" cy="169.1" r="2.2" fill="#a8a8a8"/>
<circle cx="379.1" cy="170.7" r="2.2" fill="#a8a8a8"/>
<circle cx="379.1" cy="190" r="2.2" fill="#a8a8a8"/>
<circle cx="379.1" cy="194.5" r="2.2" fill="#a8a8a8"/>
<circle cx="379.1" cy="202.8" r="2.2" fill="#a8a8a8"/>
<circle cx="379.1" cy="205" r="2.2" fill="#a8a8a8"/>
<circle cx="379.1" cy="207.5" r="2.2" fill="#a8a8a8"/>
<circle cx="379.1" cy="210" r="2.2" fill="#a8a8a8"/>
<circle cx="379.1" cy="212.9" r="2.2" fill="#a8a8a8"/>
<circle cx="379.1" cy="218.5" r="2.2" fill="#a8a8a8"/>
<circle cx="379.1" cy="226.4" r="2.2" fill="#a8a8a8"/>
<circle cx="379.1" cy="229.8" r="2.2" fill="#a8a8a8"/>
<circle cx="379.1" cy="233.1" r="2.2" fill="#a8a8a8"/>
<circle cx="379.1" cy="240" r="2.2" fill="#a8a8a8"/>
<circle cx="379.1" cy="246" r="2.2" fill="#a8a8a8"/>
<circle cx="379.1" cy="250" r="2.2" fill="#a8a8a8"/>
<circle cx="379.1" cy="254.5" r="2.2" fill="#a8a8a8"/>
<circle cx="379.1" cy="258" r="2.2" fill="#a8a8a8"/>
<circle cx="379.1" cy="261.3" r="2.2" fill="#a8a8a8"/>
<circle cx="379.1" cy="264" r="2.2" fill="#a8a8a8"/>
<circle cx="379.1" cy="266" r="2.2" fill="#a8a8a8"/>
<circle cx="379.1" cy="268.1" r="2.2" fill="#a8a8a8"/>
<circle cx="379.1" cy="274.8" r="2.2" fill="#a8a8a8"/>
<circle cx="379.1" cy="282.2" r="2.2" fill="#a8a8a8"/>
<circle cx="379.1" cy="289.4" r="2.2" fill="#a8a8a8"/>
<circle cx="379.1" cy="295.7" r="2.2" fill="#a8a8a8"/>
<circle cx="379.1" cy="305.6" r="2.2" fill="#a8a8a8"/>
<circle cx="379.1" cy="318" r="2.2" fill="#a8a8a8"/>
<circle cx="379.1" cy="322.6" r="2.2" fill="#a8a8a8"/>
<circle cx="415.8" cy="160.1" r="2.2" fill="#a8a8a8"/>
<circle cx="415.8" cy="160.6" r="2.2" fill="#a8a8a8"/>
<circle cx="415.8" cy="180.3" r="2.2" fill="#a8a8a8"/>
<circle cx="415.8" cy="191.6" r="2.2" fill="#a8a8a8"/>
<circle cx="415.8" cy="196" r="2.2" fill="#a8a8a8"/>
<circle cx="415.8" cy="199" r="2.2" fill="#a8a8a8"/>
<circle cx="415.8" cy="202" r="2.2" fill="#a8a8a8"/>
<circle cx="415.8" cy="204" r="2.2" fill="#a8a8a8"/>
<circle cx="415.8" cy="208.4" r="2.2" fill="#a8a8a8"/>
<circle cx="415.8" cy="212" r="2.2" fill="#a8a8a8"/>
<circle cx="415.8" cy="216" r="2.2" fill="#a8a8a8"/>
<circle cx="415.8" cy="220" r="2.2" fill="#a8a8a8"/>
<circle cx="415.8" cy="224.2" r="2.2" fill="#a8a8a8"/>
<circle cx="415.8" cy="232" r="2.2" fill="#a8a8a8"/>
<circle cx="415.8" cy="239.9" r="2.2" fill="#a8a8a8"/>
<circle cx="415.8" cy="242" r="2.2" fill="#a8a8a8"/>
<circle cx="415.8" cy="245.5" r="2.2" fill="#a8a8a8"/>
<circle cx="415.8" cy="246.7" r="2.2" fill="#a8a8a8"/>
<circle cx="415.8" cy="256" r="2.2" fill="#a8a8a8"/>
<circle cx="415.8" cy="260" r="2.2" fill="#a8a8a8"/>
<circle cx="415.8" cy="267" r="2.2" fill="#a8a8a8"/>
<circle cx="415.8" cy="270.3" r="2.2" fill="#a8a8a8"/>
<circle cx="415.8" cy="276" r="2.2" fill="#a8a8a8"/>
<circle cx="415.8" cy="280" r="2.2" fill="#a8a8a8"/>
<circle cx="415.8" cy="287.9" r="2.2" fill="#a8a8a8"/>
<circle cx="415.8" cy="298" r="2.2" fill="#a8a8a8"/>
<circle cx="415.8" cy="307" r="2.2" fill="#a8a8a8"/>
<circle cx="415.8" cy="315" r="2.2" fill="#a8a8a8"/>
<circle cx="415.8" cy="322" r="2.2" fill="#a8a8a8"/>
<circle cx="415.8" cy="329.9" r="2.2" fill="#a8a8a8"/>
<circle cx="415.8" cy="365.9" r="2.2" fill="#a8a8a8"/>
<circle cx="452.6" cy="170.2" r="2.2" fill="#a8a8a8"/>
<circle cx="452.6" cy="184.8" r="2.2" fill="#a8a8a8"/>
<circle cx="452.6" cy="191.6" r="2.2" fill="#a8a8a8"/>
<circle cx="452.6" cy="195" r="2.2" fill="#a8a8a8"/>
<circle cx="452.6" cy="198.3" r="2.2" fill="#a8a8a8"/>
<circle cx="452.6" cy="210" r="2.2" fill="#a8a8a8"/>
<circle cx="452.6" cy="223" r="2.2" fill="#a8a8a8"/>
<circle cx="452.6" cy="235" r="2.2" fill="#a8a8a8"/>
<circle cx="452.6" cy="241" r="2.2" fill="#a8a8a8"/>
<circle cx="452.6" cy="242.2" r="2.2" fill="#a8a8a8"/>
<circle cx="452.6" cy="243.3" r="2.2" fill="#a8a8a8"/>
<circle cx="452.6" cy="255.7" r="2.2" fill="#a8a8a8"/>
<circle cx="452.6" cy="262" r="2.2" fill="#a8a8a8"/>
<circle cx="452.6" cy="267" r="2.2" fill="#a8a8a8"/>
<circle cx="452.6" cy="276" r="2.2" fill="#a8a8a8"/>
<circle cx="452.6" cy="286" r="2.2" fill="#a8a8a8"/>
<circle cx="452.6" cy="289" r="2.2" fill="#a8a8a8"/>
<circle cx="452.6" cy="292" r="2.2" fill="#a8a8a8"/>
<circle cx="452.6" cy="295" r="2.2" fill="#a8a8a8"/>
<circle cx="452.6" cy="303" r="2.2" fill="#a8a8a8"/>
<circle cx="452.6" cy="313" r="2.2" fill="#a8a8a8"/>
<circle cx="452.6" cy="316" r="2.2" fill="#a8a8a8"/>
<circle cx="452.6" cy="319.8" r="2.2" fill="#a8a8a8"/>
<circle cx="452.6" cy="327.6" r="2.2" fill="#a8a8a8"/>
<circle cx="452.6" cy="330" r="2.2" fill="#a8a8a8"/>
<circle cx="452.6" cy="333" r="2.2" fill="#a8a8a8"/>
<circle cx="452.6" cy="336.6" r="2.2" fill="#a8a8a8"/>
<circle cx="452.6" cy="345" r="2.2" fill="#a8a8a8"/>
<circle cx="452.6" cy="355.1" r="2.2" fill="#a8a8a8"/>
<circle cx="452.6" cy="372.9" r="2.2" fill="#a8a8a8"/>
<circle cx="452.6" cy="387" r="2.2" fill="#a8a8a8"/>
<circle cx="489.3" cy="169" r="2.2" fill="#a8a8a8"/>
<circle cx="489.3" cy="188.1" r="2.2" fill="#a8a8a8"/>
<circle cx="489.3" cy="194.8" r="2.2" fill="#a8a8a8"/>
<circle cx="489.3" cy="199.3" r="2.2" fill="#a8a8a8"/>
<circle cx="489.3" cy="201.6" r="2.2" fill="#a8a8a8"/>
<circle cx="489.3" cy="216.2" r="2.2" fill="#a8a8a8"/>
<circle cx="489.3" cy="218" r="2.2" fill="#a8a8a8"/>
<circle cx="489.3" cy="228.1" r="2.2" fill="#a8a8a8"/>
<circle cx="489.3" cy="240.4" r="2.2" fill="#a8a8a8"/>
<circle cx="489.3" cy="252" r="2.2" fill="#a8a8a8"/>
<circle cx="489.3" cy="263.4" r="2.2" fill="#a8a8a8"/>
<circle cx="489.3" cy="270" r="2.2" fill="#a8a8a8"/>
<circle cx="489.3" cy="276.9" r="2.2" fill="#a8a8a8"/>
<circle cx="489.3" cy="284" r="2.2" fill="#a8a8a8"/>
<circle cx="489.3" cy="291.5" r="2.2" fill="#a8a8a8"/>
<circle cx="489.3" cy="296" r="2.2" fill="#a8a8a8"/>
<circle cx="489.3" cy="301.6" r="2.2" fill="#a8a8a8"/>
<circle cx="489.3" cy="306" r="2.2" fill="#a8a8a8"/>
<circle cx="489.3" cy="309" r="2.2" fill="#a8a8a8"/>
<circle cx="489.3" cy="312.8" r="2.2" fill="#a8a8a8"/>
<circle cx="489.3" cy="318" r="2.2" fill="#a8a8a8"/>
<circle cx="489.3" cy="321.1" r="2.2" fill="#a8a8a8"/>
<circle cx="489.3" cy="326.3" r="2.2" fill="#a8a8a8"/>
<circle cx="489.3" cy="333" r="2.2" fill="#a8a8a8"/>
<circle cx="489.3" cy="337" r="2.2" fill="#a8a8a8"/>
<circle cx="489.3" cy="341" r="2.2" fill="#a8a8a8"/>
<circle cx="489.3" cy="345.4" r="2.2" fill="#a8a8a8"/>
<circle cx="489.3" cy="363.8" r="2.2" fill="#a8a8a8"/>
<circle cx="489.3" cy="364.2" r="2.2" fill="#a8a8a8"/>
<circle cx="489.3" cy="388.7" r="2.2" fill="#a8a8a8"/>
<circle cx="489.3" cy="419" r="2.2" fill="#a8a8a8"/>
<circle cx="526" cy="170.6" r="2.2" fill="#a8a8a8"/>
<circle cx="526" cy="181.3" r="2.2" fill="#a8a8a8"/>
<circle cx="526" cy="194.4" r="2.2" fill="#a8a8a8"/>
<circle cx="526" cy="205.6" r="2.2" fill="#a8a8a8"/>
<circle cx="526" cy="207.6" r="2.2" fill="#a8a8a8"/>
<circle cx="526" cy="212.1" r="2.2" fill="#a8a8a8"/>
<circle cx="526" cy="224.7" r="2.2" fill="#a8a8a8"/>
<circle cx="526" cy="233.7" r="2.2" fill="#a8a8a8"/>
<circle cx="526" cy="239.3" r="2.2" fill="#a8a8a8"/>
<circle cx="526" cy="252.1" r="2.2" fill="#a8a8a8"/>
<circle cx="526" cy="254" r="2.2" fill="#a8a8a8"/>
<circle cx="526" cy="256.6" r="2.2" fill="#a8a8a8"/>
<circle cx="526" cy="262.2" r="2.2" fill="#a8a8a8"/>
<circle cx="526" cy="262.7" r="2.2" fill="#a8a8a8"/>
<circle cx="526" cy="274.6" r="2.2" fill="#a8a8a8"/>
<circle cx="526" cy="285" r="2.2" fill="#a8a8a8"/>
<circle cx="526" cy="293.7" r="2.2" fill="#a8a8a8"/>
<circle cx="526" cy="296" r="2.2" fill="#a8a8a8"/>
<circle cx="526" cy="298.2" r="2.2" fill="#a8a8a8"/>
<circle cx="526" cy="302.7" r="2.2" fill="#a8a8a8"/>
<circle cx="526" cy="310.6" r="2.2" fill="#a8a8a8"/>
<circle cx="526" cy="319.6" r="2.2" fill="#a8a8a8"/>
<circle cx="526" cy="327.4" r="2.2" fill="#a8a8a8"/>
<circle cx="526" cy="331" r="2.2" fill="#a8a8a8"/>
<circle cx="526" cy="334" r="2.2" fill="#a8a8a8"/>
<circle cx="526" cy="337.5" r="2.2" fill="#a8a8a8"/>
<circle cx="526" cy="345.4" r="2.2" fill="#a8a8a8"/>
<circle cx="526" cy="350" r="2.2" fill="#a8a8a8"/>
<circle cx="526" cy="356.2" r="2.2" fill="#a8a8a8"/>
<circle cx="526" cy="401.5" r="2.2" fill="#a8a8a8"/>
<circle cx="526" cy="406.2" r="2.2" fill="#a8a8a8"/>
<circle cx="562.8" cy="175.7" r="2.2" fill="#a8a8a8"/>
<circle cx="562.8" cy="189.9" r="2.2" fill="#a8a8a8"/>
<circle cx="562.8" cy="190.8" r="2.2" fill="#a8a8a8"/>
<circle cx="562.8" cy="196" r="2.2" fill="#a8a8a8"/>
<circle cx="562.8" cy="201.6" r="2.2" fill="#a8a8a8"/>
<circle cx="562.8" cy="207.9" r="2.2" fill="#a8a8a8"/>
<circle cx="562.8" cy="225" r="2.2" fill="#a8a8a8"/>
<circle cx="562.8" cy="242.7" r="2.2" fill="#a8a8a8"/>
<circle cx="562.8" cy="248.8" r="2.2" fill="#a8a8a8"/>
<circle cx="562.8" cy="252" r="2.2" fill="#a8a8a8"/>
<circle cx="562.8" cy="256" r="2.2" fill="#a8a8a8"/>
<circle cx="562.8" cy="260" r="2.2" fill="#a8a8a8"/>
<circle cx="562.8" cy="263.4" r="2.2" fill="#a8a8a8"/>
<circle cx="562.8" cy="264.5" r="2.2" fill="#a8a8a8"/>
<circle cx="562.8" cy="270" r="2.2" fill="#a8a8a8"/>
<circle cx="562.8" cy="279.8" r="2.2" fill="#a8a8a8"/>
<circle cx="562.8" cy="290" r="2.2" fill="#a8a8a8"/>
<circle cx="562.8" cy="300.4" r="2.2" fill="#a8a8a8"/>
<circle cx="562.8" cy="303" r="2.2" fill="#a8a8a8"/>
<circle cx="562.8" cy="306" r="2.2" fill="#a8a8a8"/>
<circle cx="562.8" cy="311.2" r="2.2" fill="#a8a8a8"/>
<circle cx="562.8" cy="320" r="2.2" fill="#a8a8a8"/>
<circle cx="562.8" cy="328.5" r="2.2" fill="#a8a8a8"/>
<circle cx="562.8" cy="336.4" r="2.2" fill="#a8a8a8"/>
<circle cx="562.8" cy="340" r="2.2" fill="#a8a8a8"/>
<circle cx="562.8" cy="343.1" r="2.2" fill="#a8a8a8"/>
<circle cx="562.8" cy="355" r="2.2" fill="#a8a8a8"/>
<circle cx="562.8" cy="363.5" r="2.2" fill="#a8a8a8"/>
<circle cx="562.8" cy="365.2" r="2.2" fill="#a8a8a8"/>
<circle cx="562.8" cy="371.2" r="2.2" fill="#a8a8a8"/>
<circle cx="562.8" cy="385.4" r="2.2" fill="#a8a8a8"/>
<circle cx="599.5" cy="183.6" r="2.2" fill="#a8a8a8"/>
<circle cx="599.5" cy="191.5" r="2.2" fill="#a8a8a8"/>
<circle cx="599.5" cy="193.8" r="2.2" fill="#a8a8a8"/>
<circle cx="599.5" cy="198.3" r="2.2" fill="#a8a8a8"/>
<circle cx="599.5" cy="202.9" r="2.2" fill="#a8a8a8"/>
<circle cx="599.5" cy="207.4" r="2.2" fill="#a8a8a8"/>
<circle cx="599.5" cy="218.8" r="2.2" fill="#a8a8a8"/>
<circle cx="599.5" cy="229" r="2.2" fill="#a8a8a8"/>
<circle cx="599.5" cy="238" r="2.2" fill="#a8a8a8"/>
<circle cx="599.5" cy="250.5" r="2.2" fill="#a8a8a8"/>
<circle cx="599.5" cy="257.3" r="2.2" fill="#a8a8a8"/>
<circle cx="599.5" cy="261.8" r="2.2" fill="#a8a8a8"/>
<circle cx="599.5" cy="268" r="2.2" fill="#a8a8a8"/>
<circle cx="599.5" cy="272" r="2.2" fill="#a8a8a8"/>
<circle cx="599.5" cy="278" r="2.2" fill="#a8a8a8"/>
<circle cx="599.5" cy="284" r="2.2" fill="#a8a8a8"/>
<circle cx="599.5" cy="290" r="2.2" fill="#a8a8a8"/>
<circle cx="599.5" cy="296" r="2.2" fill="#a8a8a8"/>
<circle cx="599.5" cy="300" r="2.2" fill="#a8a8a8"/>
<circle cx="599.5" cy="306" r="2.2" fill="#a8a8a8"/>
<circle cx="599.5" cy="312" r="2.2" fill="#a8a8a8"/>
<circle cx="599.5" cy="318" r="2.2" fill="#a8a8a8"/>
<circle cx="599.5" cy="324" r="2.2" fill="#a8a8a8"/>
<circle cx="599.5" cy="330" r="2.2" fill="#a8a8a8"/>
<circle cx="599.5" cy="336" r="2.2" fill="#a8a8a8"/>
<circle cx="599.5" cy="342" r="2.2" fill="#a8a8a8"/>
<circle cx="599.5" cy="348" r="2.2" fill="#a8a8a8"/>
<circle cx="599.5" cy="355" r="2.2" fill="#a8a8a8"/>
<circle cx="599.5" cy="361.8" r="2.2" fill="#a8a8a8"/>
<circle cx="599.5" cy="388.7" r="2.2" fill="#a8a8a8"/>
<circle cx="599.5" cy="403.2" r="2.2" fill="#a8a8a8"/>
<polyline points="48.5,254 200,256.8 345,260.9 490,265 599.5,268.8" fill="none" stroke="#2030ff" stroke-width="2.4"/>
<polyline points="48.5,259.8 85.2,222.8 122,196.6 158.7,204.3 195.4,224.6 232.2,236.1 268.9,247.4 305.6,249.9 342.4,240.1 379.1,237.4 415.8,250.7 452.6,271.2 489.3,284.5 526,283.8 562.8,284.7 599.5,268.8" fill="none" stroke="#000" stroke-width="1.1"/>
<circle cx="48.5" cy="259.8" r="2.3" fill="#000"/>
<circle cx="85.2" cy="222.8" r="2.3" fill="#000"/>
<circle cx="122" cy="196.6" r="2.3" fill="#000"/>
<circle cx="158.7" cy="204.3" r="2.3" fill="#000"/>
<circle cx="195.4" cy="224.6" r="2.3" fill="#000"/>
<circle cx="232.2" cy="236.1" r="2.3" fill="#000"/>
<circle cx="268.9" cy="247.4" r="2.3" fill="#000"/>
<circle cx="305.6" cy="249.9" r="2.3" fill="#000"/>
<circle cx="342.4" cy="240.1" r="2.3" fill="#000"/>
<circle cx="379.1" cy="237.4" r="2.3" fill="#000"/>
<circle cx="415.8" cy="250.7" r="2.3" fill="#000"/>
<circle cx="452.6" cy="271.2" r="2.3" fill="#000"/>
<circle cx="489.3" cy="284.5" r="2.3" fill="#000"/>
<circle cx="526" cy="283.8" r="2.3" fill="#000"/>
<circle cx="562.8" cy="284.7" r="2.3" fill="#000"/>
<circle cx="599.5" cy="268.8" r="2.3" fill="#000"/>
</g>
<rect x="460" y="434" width="132" height="14" fill="#fff"/>
<rect x="48.5" y="98.6" width="551" height="354.4" fill="none" stroke="#000" stroke-width="1.5"/>
<line x1="44" y1="101.3" x2="48.5" y2="101.3" stroke="#222" stroke-width="1"/>
<line x1="44" y1="157.9" x2="48.5" y2="157.9" stroke="#222" stroke-width="1"/>
<line x1="44" y1="214.4" x2="48.5" y2="214.4" stroke="#222" stroke-width="1"/>
<line x1="44" y1="271" x2="48.5" y2="271" stroke="#222" stroke-width="1"/>
<line x1="44" y1="327.6" x2="48.5" y2="327.6" stroke="#222" stroke-width="1"/>
<line x1="44" y1="384.1" x2="48.5" y2="384.1" stroke="#222" stroke-width="1"/>
<line x1="44" y1="440.7" x2="48.5" y2="440.7" stroke="#222" stroke-width="1"/>
<line x1="48.5" y1="453" x2="48.5" y2="456.5" stroke="#222" stroke-width="1"/>
<line x1="158.7" y1="453" x2="158.7" y2="456.5" stroke="#222" stroke-width="1"/>
<line x1="232.2" y1="453" x2="232.2" y2="456.5" stroke="#222" stroke-width="1"/>
<line x1="305.6" y1="453" x2="305.6" y2="456.5" stroke="#222" stroke-width="1"/>
<line x1="379.1" y1="453" x2="379.1" y2="456.5" stroke="#222" stroke-width="1"/>
<line x1="452.6" y1="453" x2="452.6" y2="456.5" stroke="#222" stroke-width="1"/>
<line x1="526" y1="453" x2="526" y2="456.5" stroke="#222" stroke-width="1"/>
<line x1="599.5" y1="453" x2="599.5" y2="456.5" stroke="#222" stroke-width="1"/>
<text x="182.5" y="21.5" font-size="18.2" textLength="26.5" lengthAdjust="spacing" font-family="DejaVu Sans, sans-serif" font-weight="200" fill="#000" stroke="#000" stroke-width="0.4">US</text>
<text x="220" y="21.5" font-size="18.2" textLength="90.5" lengthAdjust="spacing" font-family="DejaVu Sans, sans-serif" font-weight="200" fill="#000" stroke="#000" stroke-width="0.4">Soybeans</text>
<text x="322.5" y="21.5" font-size="18.2" textLength="119.5" lengthAdjust="spacing" font-family="DejaVu Sans, sans-serif" font-weight="200" fill="#000" stroke="#000" stroke-width="0.4">Temperature</text>
<text x="65.5" y="44.5" font-size="14.5" textLength="68" lengthAdjust="spacing" font-family="DejaVu Sans, sans-serif" font-weight="200" fill="#000" stroke="#000" stroke-width="0.4">Forecast</text>
<text x="143" y="44.5" font-size="14.5" textLength="90.5" lengthAdjust="spacing" font-family="DejaVu Sans, sans-serif" font-weight="200" fill="#000" stroke="#000" stroke-width="0.4">Daily−Mean</text>
<text x="244" y="44.5" font-size="14.5" textLength="97" lengthAdjust="spacing" font-family="DejaVu Sans, sans-serif" font-weight="200" fill="#000" stroke="#000" stroke-width="0.4">Temperature</text>
<text x="350.5" y="44.5" font-size="14.5" textLength="80" lengthAdjust="spacing" font-family="DejaVu Sans, sans-serif" font-weight="200" fill="#000" stroke="#000" stroke-width="0.4">Compared</text>
<text x="441" y="44.5" font-size="14.5" textLength="13.5" lengthAdjust="spacing" font-family="DejaVu Sans, sans-serif" font-weight="200" fill="#000" stroke="#000" stroke-width="0.4">to</text>
<text x="463" y="44.5" font-size="14.5" textLength="57.5" lengthAdjust="spacing" font-family="DejaVu Sans, sans-serif" font-weight="200" fill="#000" stroke="#000" stroke-width="0.4">Normal</text>
<text x="528" y="44.5" font-size="14.5" textLength="31" lengthAdjust="spacing" font-family="DejaVu Sans, sans-serif" font-weight="200" fill="#000" stroke="#000" stroke-width="0.4">(°F)</text>
<text x="172" y="64" font-size="14.5" textLength="167" lengthAdjust="spacing" font-family="DejaVu Sans, sans-serif" font-weight="200" fill="#000" stroke="#000" stroke-width="0.4">Production−Weighted</text>
<text x="347.5" y="64" font-size="14.5" textLength="36" lengthAdjust="spacing" font-family="DejaVu Sans, sans-serif" font-weight="200" fill="#000" stroke="#000" stroke-width="0.4">Area</text>
<text x="392" y="64" font-size="14.5" textLength="61.5" lengthAdjust="spacing" font-family="DejaVu Sans, sans-serif" font-weight="200" fill="#000" stroke="#000" stroke-width="0.4">Average</text>
<text x="133.5" y="84" font-size="14.5" textLength="64.5" lengthAdjust="spacing" font-family="DejaVu Sans, sans-serif" font-weight="200" fill="#000" stroke="#000" stroke-width="0.4">15−Day</text>
<text x="206.5" y="84" font-size="14.5" textLength="72.5" lengthAdjust="spacing" font-family="DejaVu Sans, sans-serif" font-weight="200" fill="#000" stroke="#000" stroke-width="0.4">Forecast</text>
<text x="288.5" y="84" font-size="14.5" textLength="80" lengthAdjust="spacing" font-family="DejaVu Sans, sans-serif" font-weight="200" fill="#000" stroke="#000" stroke-width="0.4">Beginning</text>
<text x="378.5" y="84" font-size="14.5" textLength="21" lengthAdjust="spacing" font-family="DejaVu Sans, sans-serif" font-weight="200" fill="#000" stroke="#000" stroke-width="0.4">29</text>
<text x="410" y="84" font-size="14.5" textLength="29.5" lengthAdjust="spacing" font-family="DejaVu Sans, sans-serif" font-weight="200" fill="#000" stroke="#000" stroke-width="0.4">July</text>
<text x="451" y="84" font-size="14.5" textLength="42" lengthAdjust="spacing" font-family="DejaVu Sans, sans-serif" font-weight="200" fill="#000" stroke="#000" stroke-width="0.4">2024</text>
<text x="60" y="115.1" font-size="10.9" textLength="49.5" lengthAdjust="spacing" font-family="DejaVu Sans, sans-serif" font-weight="200" fill="#000" stroke="#000" stroke-width="0.4">National</text>
<text x="116" y="115.1" font-size="10.9" textLength="48" lengthAdjust="spacing" font-family="DejaVu Sans, sans-serif" font-weight="200" fill="#000" stroke="#000" stroke-width="0.4">Weather</text>
<text x="172" y="115.1" font-size="10.9" textLength="43.5" lengthAdjust="spacing" font-family="DejaVu Sans, sans-serif" font-weight="200" fill="#000" stroke="#000" stroke-width="0.4">Service</text>
<text x="223" y="115.1" font-size="10.9" textLength="37" lengthAdjust="spacing" font-family="DejaVu Sans, sans-serif" font-weight="200" fill="#000" stroke="#000" stroke-width="0.4">Global</text>
<text x="266.5" y="115.1" font-size="10.9" textLength="53" lengthAdjust="spacing" font-family="DejaVu Sans, sans-serif" font-weight="200" fill="#000" stroke="#000" stroke-width="0.4">Forecast</text>
<text x="326.5" y="115.1" font-size="10.9" textLength="44.5" lengthAdjust="spacing" font-family="DejaVu Sans, sans-serif" font-weight="200" fill="#000" stroke="#000" stroke-width="0.4">System</text>
<text x="116" y="130.6" font-size="10.9" textLength="58" lengthAdjust="spacing" font-family="DejaVu Sans, sans-serif" font-weight="200" fill="#000" stroke="#000" stroke-width="0.4">Ensemble</text>
<text x="180.5" y="130.6" font-size="10.9" textLength="55.5" lengthAdjust="spacing" font-family="DejaVu Sans, sans-serif" font-weight="200" fill="#000" stroke="#000" stroke-width="0.4">Members</text>
<text x="324" y="130.6" font-size="10.9" textLength="58" lengthAdjust="spacing" font-family="DejaVu Sans, sans-serif" font-weight="200" fill="#000" stroke="#000" stroke-width="0.4">Ensemble</text>
<text x="389" y="130.6" font-size="10.9" textLength="48" lengthAdjust="spacing" font-family="DejaVu Sans, sans-serif" font-weight="200" fill="#000" stroke="#000" stroke-width="0.4">Average</text>
<text x="532.5" y="130.6" font-size="10.9" textLength="43.5" lengthAdjust="spacing" font-family="DejaVu Sans, sans-serif" font-weight="200" fill="#000" stroke="#000" stroke-width="0.4">Normal</text>
<text x="463.2" y="445.8" font-size="11.3" font-family="DejaVu Sans, sans-serif" font-weight="200" fill="#000" stroke="#000" stroke-width="0.4">©</text>
<text x="479" y="445.8" font-size="11.3" textLength="32" lengthAdjust="spacing" font-family="DejaVu Sans, sans-serif" font-weight="200" fill="#000" stroke="#000" stroke-width="0.4">World</text>
<text x="518" y="445.8" font-size="11.3" textLength="14.5" lengthAdjust="spacing" font-family="DejaVu Sans, sans-serif" font-weight="200" fill="#000" stroke="#000" stroke-width="0.4">Ag</text>
<text x="540.5" y="445.8" font-size="11.3" textLength="46.5" lengthAdjust="spacing" font-family="DejaVu Sans, sans-serif" font-weight="200" fill="#000" stroke="#000" stroke-width="0.4">Weather</text>
<line x1="65.3" y1="126.7" x2="104.5" y2="126.7" stroke="#b8b8b8" stroke-width="1.2"/>
<circle cx="65.3" cy="126.7" r="2.7" fill="#a0a0a0"/><circle cx="104.5" cy="126.7" r="2.7" fill="#a0a0a0"/>
<rect x="273.3" y="122" width="39.6" height="4.8" fill="#55a5ff"/>
<rect x="273.3" y="126.8" width="39.6" height="4.6" fill="#ff5a5a"/>
<line x1="273.3" y1="126.8" x2="312.8" y2="126.8" stroke="#000" stroke-width="1.2"/>
<circle cx="273.4" cy="126.8" r="2.7" fill="#000"/><circle cx="312.7" cy="126.8" r="2.7" fill="#000"/>
<line x1="480.3" y1="126.7" x2="521.7" y2="126.7" stroke="#2030ff" stroke-width="2.4"/>
<text x="26.2" y="106.2" font-size="13.7" textLength="14" lengthAdjust="spacingAndGlyphs" font-family="Liberation Sans, Arial, sans-serif" fill="#000" >90</text>
<text x="26.2" y="162.8" font-size="13.7" textLength="14" lengthAdjust="spacingAndGlyphs" font-family="Liberation Sans, Arial, sans-serif" fill="#000" >85</text>
<text x="26.2" y="219.3" font-size="13.7" textLength="14" lengthAdjust="spacingAndGlyphs" font-family="Liberation Sans, Arial, sans-serif" fill="#000" >80</text>
<text x="26.2" y="275.9" font-size="13.7" textLength="14" lengthAdjust="spacingAndGlyphs" font-family="Liberation Sans, Arial, sans-serif" fill="#000" >75</text>
<text x="26.2" y="332.5" font-size="13.7" textLength="14" lengthAdjust="spacingAndGlyphs" font-family="Liberation Sans, Arial, sans-serif" fill="#000" >70</text>
<text x="26.2" y="389" font-size="13.7" textLength="14" lengthAdjust="spacingAndGlyphs" font-family="Liberation Sans, Arial, sans-serif" fill="#000" >65</text>
<text x="26.2" y="445.6" font-size="13.7" textLength="14" lengthAdjust="spacingAndGlyphs" font-family="Liberation Sans, Arial, sans-serif" fill="#000" >60</text>
<text x="4.3" y="267" font-size="15.4" textLength="15.5" lengthAdjust="spacingAndGlyphs" font-family="Liberation Sans, Arial, sans-serif" fill="#000" >°F</text>
<text x="32.8" y="467.7" font-size="12.2" textLength="30.9" lengthAdjust="spacingAndGlyphs" font-family="Liberation Sans, Arial, sans-serif" fill="#000" >29JUL</text>
<text x="35.5" y="479.6" font-size="12.2" textLength="26.1" lengthAdjust="spacingAndGlyphs" font-family="Liberation Sans, Arial, sans-serif" fill="#000" >2024</text>
<text x="146.4" y="467.7" font-size="12.2" textLength="25.7" lengthAdjust="spacingAndGlyphs" font-family="Liberation Sans, Arial, sans-serif" fill="#000" >1AUG</text>
<text x="219.9" y="467.7" font-size="12.2" textLength="25.7" lengthAdjust="spacingAndGlyphs" font-family="Liberation Sans, Arial, sans-serif" fill="#000" >3AUG</text>
<text x="293.4" y="467.7" font-size="12.2" textLength="25.7" lengthAdjust="spacingAndGlyphs" font-family="Liberation Sans, Arial, sans-serif" fill="#000" >5AUG</text>
<text x="366.9" y="467.7" font-size="12.2" textLength="25.7" lengthAdjust="spacingAndGlyphs" font-family="Liberation Sans, Arial, sans-serif" fill="#000" >7AUG</text>
<text x="440.3" y="467.7" font-size="12.2" textLength="25.7" lengthAdjust="spacingAndGlyphs" font-family="Liberation Sans, Arial, sans-serif" fill="#000" >9AUG</text>
<text x="510.6" y="467.7" font-size="12.2" textLength="32.1" lengthAdjust="spacingAndGlyphs" font-family="Liberation Sans, Arial, sans-serif" fill="#000" >11AUG</text>
<text x="584.1" y="467.7" font-size="12.2" textLength="32.1" lengthAdjust="spacingAndGlyphs" font-family="Liberation Sans, Arial, sans-serif" fill="#000" >13AUG</text>
</svg>
</body></html>
